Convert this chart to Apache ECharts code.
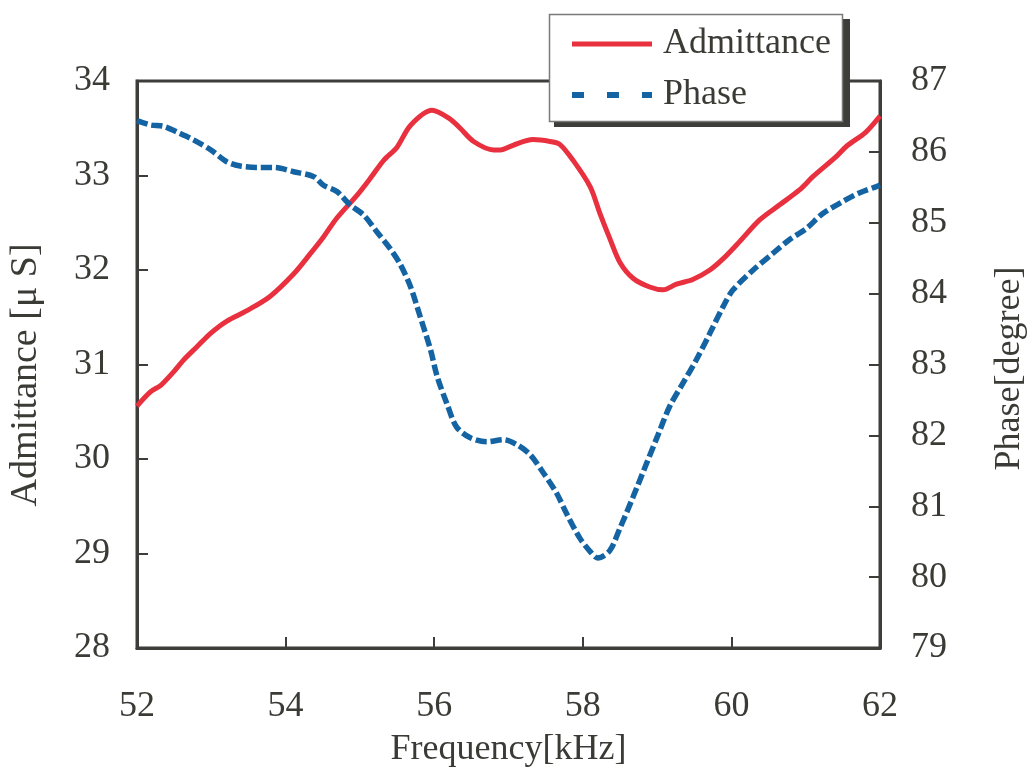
<!DOCTYPE html>
<html>
<head>
<meta charset="utf-8">
<script src="https://cdn.jsdelivr.net/npm/echarts@6/dist/echarts.min.js"></script>
<style>
  html, body { margin: 0; padding: 0; background: #ffffff; }
  #chart { width: 1032px; height: 773px; }
</style>
</head>
<body>
<div id="chart"></div>
<script>
// Admittance curve (µS) versus frequency (kHz)
const admFreq = [52.00, 52.18, 52.32, 52.49, 52.63, 52.81, 52.99, 53.21, 53.48, 53.79,
  54.11, 54.33, 54.51, 54.69, 54.96, 55.14, 55.32, 55.50, 55.68, 55.97,
  56.21, 56.35, 56.53, 56.80, 56.89, 57.06, 57.33, 57.56, 57.69, 57.87,
  58.10, 58.23, 58.36, 58.50, 58.68, 58.90, 59.08, 59.26, 59.48, 59.71,
  59.89, 60.11, 60.38, 60.65, 60.92, 61.10, 61.41, 61.55, 61.81, 62.00];
const admittance = [30.56, 30.71, 30.78, 30.92, 31.05, 31.19, 31.33, 31.46, 31.57, 31.72,
  31.96, 32.17, 32.35, 32.55, 32.79, 32.97, 33.16, 33.30, 33.53, 33.69,
  33.60, 33.50, 33.36, 33.27, 33.27, 33.32, 33.38, 33.36, 33.33, 33.16,
  32.88, 32.60, 32.34, 32.08, 31.91, 31.82, 31.79, 31.85, 31.90, 32.00,
  32.12, 32.30, 32.53, 32.69, 32.85, 32.99, 33.20, 33.31, 33.46, 33.63];

// Phase curve (degree) versus frequency (kHz)
const phaseFreq = [52.00, 52.18, 52.36, 52.58, 52.76, 52.99, 53.21, 53.39, 53.62, 53.84,
  54.11, 54.38, 54.51, 54.69, 54.87, 55.05, 55.23, 55.41, 55.54, 55.68,
  55.81, 55.95, 56.04, 56.17, 56.30, 56.48, 56.71, 56.93, 57.11, 57.29,
  57.47, 57.65, 57.78, 57.96, 58.10, 58.20, 58.36, 58.50, 58.68, 58.86,
  59.01, 59.17, 59.35, 59.53, 59.71, 59.89, 60.02, 60.29, 60.56, 60.78,
  61.01, 61.23, 61.50, 61.72, 61.95, 62.00];
const phase = [86.44, 86.38, 86.36, 86.26, 86.17, 86.03, 85.86, 85.80, 85.78, 85.78,
  85.72, 85.65, 85.53, 85.44, 85.25, 85.11, 84.87, 84.63, 84.42, 84.10,
  83.68, 83.21, 82.83, 82.45, 82.12, 81.97, 81.91, 81.94, 81.87, 81.73,
  81.47, 81.18, 80.90, 80.55, 80.36, 80.27, 80.37, 80.69, 81.14, 81.61,
  82.00, 82.41, 82.74, 83.07, 83.44, 83.82, 84.05, 84.33, 84.57, 84.76,
  84.92, 85.13, 85.30, 85.42, 85.51, 85.53];

// Axis ranges and labels
const freqRange = [52, 62, 2];
const admRange = [28, 34, 1];
const phaseRange = [79, 87, 1];
const seriesNames = ['Admittance', 'Phase'];
const axisNames = ['Frequency[kHz]', 'Admittance [\u03bc S]', 'Phase[degree]'];

const FONT = 'Liberation Serif';
const INK = '#3b3b36';
const RED = '#e8303e';
const BLUE = '#1463a3';

const zip = (xs, ys) => xs.map((x, i) => [x, ys[i]]);

const axisLine = { show: true, lineStyle: { color: '#3d3d39', width: 3 } };
const axisTick = { show: true, inside: true, length: 11, lineStyle: { color: '#3d3d39', width: 2 } };
const axisLabelBase = { color: INK, fontFamily: FONT, fontSize: 36 };
const nameStyle = { color: INK, fontFamily: FONT, fontSize: 36 };

const chart = echarts.init(document.getElementById('chart'), null, { renderer: 'canvas' });

chart.setOption({
  animation: false,
  backgroundColor: '#ffffff',
  grid: {
    left: 137, right: 152, top: 81, bottom: 125,
    show: true, borderColor: '#3d3d39', borderWidth: 3,
    containLabel: false, outerBoundsMode: 'none'
  },
  xAxis: {
    type: 'value',
    min: freqRange[0], max: freqRange[1], interval: freqRange[2],
    name: axisNames[0], nameLocation: 'middle', nameGap: 84,
    nameTextStyle: nameStyle,
    axisLine, axisTick,
    axisLabel: Object.assign({ margin: 41 }, axisLabelBase),
    splitLine: { show: false }
  },
  yAxis: [
    {
      type: 'value', position: 'left',
      min: admRange[0], max: admRange[1], interval: admRange[2],
      name: axisNames[1], nameLocation: 'middle', nameGap: 92, nameRotate: 90,
      nameTextStyle: Object.assign({}, nameStyle, { fontSize: 38, padding: [0, 21, 0, 0] }),
      axisLine, axisTick,
      axisLabel: Object.assign({ margin: 27 }, axisLabelBase),
      splitLine: { show: false }
    },
    {
      type: 'value', position: 'right',
      min: phaseRange[0], max: phaseRange[1], interval: phaseRange[2],
      name: axisNames[2], nameLocation: 'middle', nameGap: 112, nameRotate: 90,
      nameTextStyle: Object.assign({}, nameStyle, { padding: [0, 8, 0, 0] }),
      axisLine, axisTick,
      axisLabel: Object.assign({ margin: 31 }, axisLabelBase),
      splitLine: { show: false }
    }
  ],
  legend: {
    orient: 'vertical',
    left: 569, top: 26,
    padding: 0,
    z: 60,
    itemWidth: 80, itemHeight: 14, itemGap: 15,
    textStyle: { color: INK, fontFamily: FONT, fontSize: 36, padding: [0, 0, 0, 6] },
    data: [
      { name: seriesNames[0], lineStyle: { width: 5 },
        itemStyle: { opacity: 0, borderWidth: 0 } },
      { name: seriesNames[1], lineStyle: { width: 6, type: [12, 23] },
        itemStyle: { opacity: 0, borderWidth: 0 } }
    ]
  },
  graphic: [
    { type: 'rect', z: 50, shape: { x: 554, y: 19, width: 296, height: 108 },
      style: { fill: '#3d3d39' } },
    { type: 'rect', z: 51, shape: { x: 549.5, y: 14.5, width: 293, height: 107 },
      style: { fill: '#ffffff', stroke: '#7a7a7a', lineWidth: 1.5 } }
  ],
  series: [
    {
      name: seriesNames[0], type: 'line', yAxisIndex: 0,
      data: zip(admFreq, admittance),
      showSymbol: false, symbol: 'none', smooth: 0.3,
      lineStyle: { color: RED, width: 5 },
      itemStyle: { color: RED }
    },
    {
      name: seriesNames[1], type: 'line', yAxisIndex: 1,
      data: zip(phaseFreq, phase),
      showSymbol: false, symbol: 'none', smooth: 0.3,
      lineStyle: { color: BLUE, width: 5.5, type: [11, 4] },
      itemStyle: { color: BLUE }
    }
  ]
});
</script>
</body>
</html>
